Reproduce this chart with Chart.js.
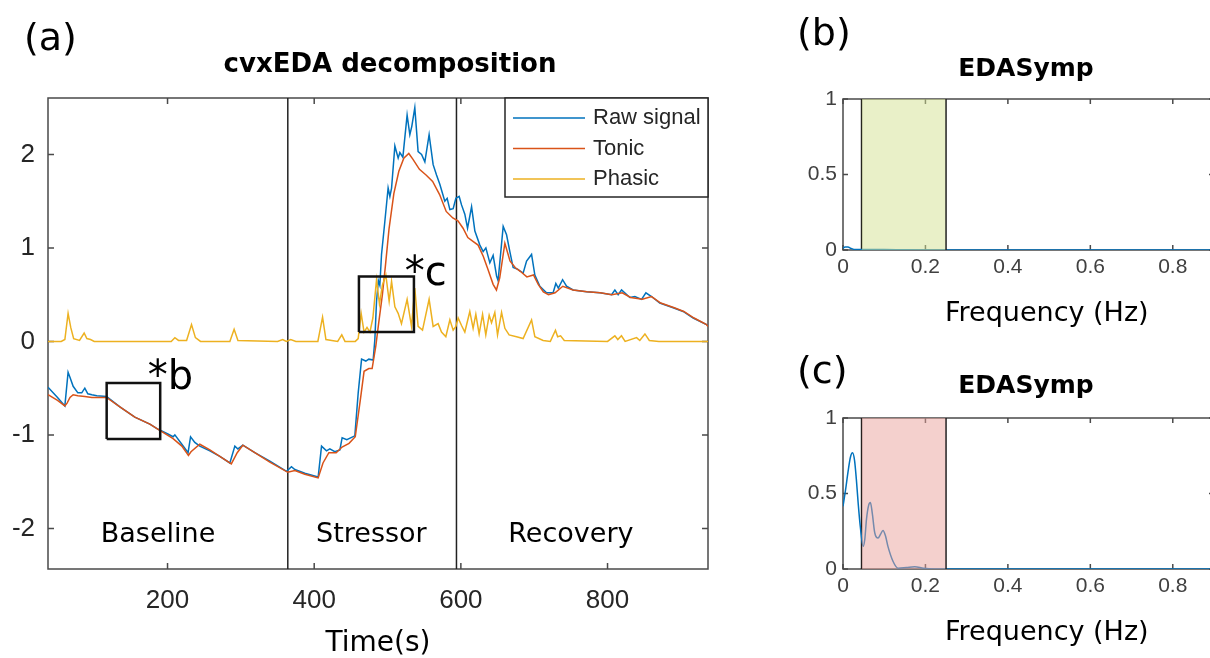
<!DOCTYPE html>
<html>
<head>
<meta charset="utf-8">
<title>cvxEDA decomposition and EDASymp</title>
<script src="https://cdn.jsdelivr.net/npm/chart.js@4.4.1/dist/chart.umd.min.js"></script>
<style>
  html, body { margin: 0; padding: 0; background: #fff; overflow: hidden; }
  body { width: 1210px; height: 658px; position: relative; }
  canvas { position: absolute; }
  #chartA { left: 0; top: 0; }
  #chartB { left: 790px; top: 0; }
  #chartC { left: 790px; top: 330px; }
</style>
</head>
<body>
<canvas id="chartA" width="780" height="658"></canvas>
<canvas id="chartB" width="440" height="330"></canvas>
<canvas id="chartC" width="440" height="328"></canvas>
<script>
// ---- panel (a): cvxEDA decomposition, [time (s), value] ----
const rawSignal = [
  [37,-0.49],[50,-0.60],[60,-0.69],[64.4,-0.33],[66.8,-0.38],[71.3,-0.48],[77.7,-0.55],[83,-0.55],
  [87.2,-0.50],[91.3,-0.56],[96.8,-0.57],[103.6,-0.58],[116.8,-0.59],[135,-0.70],[155.4,-0.81],
  [175.9,-0.885],[187.2,-0.94],[200.4,-0.99],[207.6,-1.02],[210,-1.00],[219.5,-1.10],[228,-1.19],
  [231.4,-1.02],[237.2,-1.08],[244,-1.12],[257.7,-1.17],[271.3,-1.23],[285,-1.30],[291.8,-1.12],
  [296,-1.15],[302.7,-1.11],[319,-1.19],[339.5,-1.28],[362.3,-1.39],[369,-1.34],[373.6,-1.37],
  [387.2,-1.41],[405.4,-1.45],[410,-1.12],[416.8,-1.17],[421.3,-1.15],[428.1,-1.18],[435,-1.16],
  [438.1,-1.03],[444.5,-1.05],[455.4,-1.01],[460,-0.55],[464.6,-0.19],[470.4,-0.21],[474.5,-0.19],
  [480.4,-0.20],[482.7,0.02],[485,0.43],[487.5,0.65],[489.5,0.60],[491.8,0.93],[496.3,1.28],
  [500.8,1.64],[503.2,1.55],[505.5,1.64],[510,2.09],[514.5,1.96],[516.8,2.02],[520.9,1.97],
  [526.7,2.42],[530.4,2.21],[533.1,2.30],[537.2,2.50],[541.7,2.03],[546.4,2.00],[550.9,1.92],
  [556.7,2.21],[562.2,1.89],[566.8,1.78],[571.3,1.68],[578.1,1.50],[581.3,1.53],[585,1.41],
  [589.5,1.42],[593.2,1.53],[597.7,1.55],[600.9,1.46],[605.4,1.36],[609.1,1.21],[614.6,1.44],
  [619.1,1.18],[625.9,1.03],[630.4,0.96],[634.1,1.00],[639.5,0.84],[644,0.92],[648.7,0.70],
  [650.8,0.65],[657.7,1.23],[662.3,1.14],[666.8,0.96],[671.3,0.79],[677.7,0.77],[684.9,0.73],
  [689.6,0.86],[696.4,0.93],[700.9,0.71],[707.7,0.59],[716.8,0.52],[725.8,0.52],[729.5,0.62],
  [732.9,0.57],[738.7,0.66],[744.1,0.59],[753.1,0.55],[771.4,0.53],[789.5,0.52],[805.5,0.50],
  [810,0.55],[814.5,0.50],[819.1,0.55],[830.5,0.47],[837.3,0.48],[846.4,0.45],[852.3,0.52],
  [860,0.48],[871.3,0.41],[889.5,0.36],[903.1,0.32],[916.8,0.25],[935,0.18],[937,0.17]
];
const tonic = [
  [37,-0.57],[50,-0.63],[60,-0.69],[63,-0.66],[67,-0.60],[71.3,-0.57],[77.7,-0.58],[87.2,-0.59],
  [96.8,-0.60],[116.8,-0.60],[135,-0.70],[155.4,-0.81],[175.9,-0.885],[187.2,-0.94],[207.6,-1.04],
  [219.5,-1.12],[228.5,-1.22],[232,-1.18],[244,-1.10],[257.7,-1.16],[271.3,-1.23],[287,-1.31],
  [295,-1.19],[302.7,-1.11],[319,-1.19],[339.5,-1.29],[364,-1.40],[373.6,-1.38],[387.2,-1.42],
  [405.4,-1.46],[412,-1.30],[420,-1.19],[430,-1.19],[438,-1.13],[447.5,-1.09],[456,-1.02],
  [463,-0.62],[468,-0.32],[474.5,-0.29],[479,-0.29],[484,-0.05],[488,0.20],[493,0.50],[497,0.80],
  [502,1.20],[508.6,1.58],[515.4,1.82],[522.2,1.96],[529,2.01],[534.5,1.95],[543.5,1.84],
  [552.5,1.78],[561.5,1.71],[571,1.57],[580,1.39],[589,1.32],[596,1.29],[603,1.21],[609.5,1.11],
  [616.5,1.07],[623.5,1.03],[630.5,0.91],[637,0.77],[644,0.61],[648.5,0.55],[653,0.68],[660,1.05],
  [667,0.86],[674,0.79],[681,0.75],[690,0.69],[699,0.71],[705.5,0.61],[712.5,0.53],[719.5,0.50],
  [728.5,0.52],[739,0.59],[753,0.55],[772,0.53],[790,0.52],[806,0.50],[820,0.52],[831.5,0.47],
  [847.5,0.45],[860,0.48],[872.5,0.41],[891,0.36],[904,0.32],[918,0.25],[935,0.18],[937,0.16]
];
const phasic = [
  [37,0],[55,0],[60,0.02],[64.4,0.30],[68,0.15],[72,0.03],[80,0.01],[86.3,0.09],[90,0.03],[95,0.02],
  [100,0],[140,0],[205,0],[210,0.04],[215,0.01],[226,0.01],[232.7,0.18],[238,0.04],[245,0],[285,0],
  [290.8,0.13],[296,0.01],[350,0],[357,0.02],[362,0],[368,0.02],[375,0],[405,0],[411.4,0.26],
  [416,0.02],[432,0],[437.6,0.07],[442,0],[456,0],[460,0.03],[464,0.30],[468,0.10],[472,0.15],
  [476,0.10],[480,0.25],[485,0.66],[489,0.40],[493,0.60],[497.7,0.71],[502.2,0.43],[505.5,0.64],
  [510,0.37],[514.5,0.30],[519,0.19],[526.7,0.45],[532.7,0.16],[537.2,0.57],[541.7,0.16],
  [547.7,0.12],[556.7,0.45],[562.2,0.16],[569,0.19],[573.6,0.10],[579.5,0.05],[585,0.23],
  [589.5,0.12],[593.2,0.16],[596.3,0.25],[600.9,0.17],[605.4,0.10],[612.2,0.32],[616.7,0.14],
  [620.4,0.29],[624.9,0.08],[629.6,0.29],[634,0.07],[638.6,0.28],[641.8,0.20],[646.3,0.31],
  [650,0.07],[655.5,0.31],[660,0.14],[665.8,0.07],[675.9,0.05],[684.9,0.03],[696.4,0.23],
  [700.9,0.05],[712.2,0.01],[722,0],[729,0.12],[732,0.05],[736,0.06],[741,0.01],[800,0],[810,0.06],
  [814,0.02],[819,0.06],[824,0],[839.6,0.04],[844,0.01],[851,0.08],[857,0.01],[870,0],[937,0]
];
const seriesNames = ["Raw signal", "Tonic", "Phasic"];
const seriesColors = ["#0072BD", "#D95319", "#EDB120"];

const timeRange = [37, 937];
const ampRange = [-2.434, 2.603];
const timeTicks = [200, 400, 600, 800];
const ampTicks = [-2, -1, 0, 1, 2];

const phaseBounds = [364, 594];
const phaseNames = ["Baseline", "Stressor", "Recovery"];
const phaseLabelTime = [187, 478, 750];
const phaseLabelAmp = -2.14;

const boxBTime = [117, 190];
const boxBAmp = [-1.045, -0.445];
const boxCTime = [461, 536];
const boxCAmp = [0.10, 0.695];
const markNames = ["*b", "*c"];
const markTime = [173, 523.6];
const markAmp = [-0.506, 0.606];

// ---- panels (b) and (c): EDASymp spectra ----
const freqTicks = [0, 0.2, 0.4, 0.6, 0.8];
const powerTicks = [0, 0.5, 1];
const powerTickLabels = ["0", "0.5", "1"];
const freqRange = [0, 0.9];
const sympBand = [0.045, 0.25];

const freqB = [0, 0.005, 0.012, 0.02, 0.03, 0.05, 0.1, 0.15, 0.2, 0.3, 0.5, 0.7, 0.9];
const powerB = [0.012, 0.02, 0.02, 0.01, 0.003, 0.003, 0.003, 0.001, 0, 0, 0, 0, 0];

const freqC = [0, 0.006, 0.012, 0.018, 0.023, 0.028, 0.0325, 0.037, 0.042, 0.0487, 0.053, 0.057,
  0.062, 0.0665, 0.071, 0.077, 0.085, 0.091, 0.097, 0.103, 0.109, 0.1215, 0.134, 0.154, 0.174,
  0.195, 0.22, 0.3, 0.5, 0.7, 0.9];
const powerC = [0.415, 0.52, 0.64, 0.74, 0.77, 0.72, 0.59, 0.43, 0.28, 0.15, 0.2, 0.33, 0.42, 0.44,
  0.37, 0.24, 0.205, 0.23, 0.255, 0.22, 0.15, 0.05, 0.005, 0.01, 0.015, 0.005, 0, 0, 0, 0, 0];

const TICK_FONT = "'Liberation Sans', Arial, sans-serif";
const NOTE_FONT = "'DejaVu Sans', sans-serif";
const AXIS_COLOR = "#262626";

// helpers
function pairs(list) {
  return list.map(p => ({ x: p[0], y: p[1] }));
}
function zipXY(xs, ys) {
  return xs.map((x, i) => ({ x: x, y: ys[i] }));
}
function rect(xs, ys) {
  return [
    { x: xs[0], y: ys[0] }, { x: xs[1], y: ys[0] }, { x: xs[1], y: ys[1] },
    { x: xs[0], y: ys[1] }, { x: xs[0], y: ys[0] }
  ];
}
function vline(x, ys) {
  return [{ x: x, y: ys[0] }, { x: x, y: ys[1] }];
}

// box around the axes with inward ticks, drawn under the data like MATLAB
const matlabAxes = {
  id: "matlabAxes",
  beforeDatasetsDraw(chart, args, opts) {
    const { ctx, chartArea: a, scales } = chart;
    ctx.save();
    ctx.strokeStyle = opts.color;
    ctx.lineWidth = opts.width;
    ctx.strokeRect(a.left, a.top, a.right - a.left, a.bottom - a.top);
    ctx.beginPath();
    scales.x.ticks.forEach(t => {
      const px = scales.x.getPixelForValue(t.value);
      ctx.moveTo(px, a.bottom); ctx.lineTo(px, a.bottom - opts.len);
      ctx.moveTo(px, a.top); ctx.lineTo(px, a.top + opts.len);
    });
    scales.y.ticks.forEach(t => {
      const py = scales.y.getPixelForValue(t.value);
      ctx.moveTo(a.left, py); ctx.lineTo(a.left + opts.len, py);
      ctx.moveTo(a.right, py); ctx.lineTo(a.right - opts.len, py);
    });
    ctx.stroke();
    ctx.restore();
  }
};

// panel letters, titles and notes
const notes = {
  id: "notes",
  afterDatasetsDraw(chart, args, opts) {
    const { ctx, scales: { x, y } } = chart;
    ctx.save();
    ctx.fillStyle = "#000";
    ctx.textBaseline = "alphabetic";
    ctx.textAlign = "left";
    ctx.font = "38px " + NOTE_FONT;
    ctx.fillText(opts.letter, opts.letterX, opts.letterY);
    ctx.textAlign = "center";
    ctx.font = "bold " + opts.titleSize + "px " + NOTE_FONT;
    ctx.fillText(opts.title, opts.titleX, opts.titleY);
    (opts.texts || []).forEach(t => {
      ctx.font = t.size + "px " + NOTE_FONT;
      ctx.textAlign = t.align;
      ctx.fillText(t.text, x.getPixelForValue(t.x), y.getPixelForValue(t.y));
    });
    ctx.restore();
  }
};

// MATLAB style boxed legend in the top right corner
const boxLegend = {
  id: "boxLegend",
  afterDatasetsDraw(chart) {
    const { ctx, chartArea } = chart;
    const w = 203, h = 99;
    const x0 = chartArea.right - w, y0 = chartArea.top;
    ctx.save();
    ctx.fillStyle = "#fff";
    ctx.fillRect(x0, y0, w, h);
    ctx.strokeStyle = AXIS_COLOR;
    ctx.lineWidth = 1.5;
    ctx.strokeRect(x0, y0, w, h);
    ctx.font = "22px " + TICK_FONT;
    ctx.textBaseline = "middle";
    ctx.textAlign = "left";
    seriesNames.forEach((name, i) => {
      const yy = y0 + 20 + i * 30.5;
      ctx.strokeStyle = seriesColors[i];
      ctx.lineWidth = 1.5;
      ctx.beginPath();
      ctx.moveTo(x0 + 8, yy);
      ctx.lineTo(x0 + 80, yy);
      ctx.stroke();
      ctx.fillStyle = AXIS_COLOR;
      ctx.fillText(name, x0 + 88, yy);
    });
    ctx.restore();
  }
};

function lineSet(label, data, color, width, order) {
  return {
    label: label,
    data: data,
    borderColor: color,
    backgroundColor: color,
    borderWidth: width,
    pointRadius: 0,
    lineTension: 0,
    fill: false,
    order: order
  };
}

function fixedTicks(values) {
  return s => { s.ticks = values.map(v => ({ value: v })); };
}

// ---------------- chart (a) ----------------
const configA = {
  type: "line",
  data: {
    datasets: [
      lineSet("box b", rect(boxBTime, boxBAmp), "#111", 2.5, 0),
      lineSet("box c", rect(boxCTime, boxCAmp), "#111", 2.5, 0),
      lineSet(seriesNames[2], pairs(phasic), seriesColors[2], 1.5, 1),
      lineSet(seriesNames[1], pairs(tonic), seriesColors[1], 1.5, 2),
      lineSet(seriesNames[0], pairs(rawSignal), seriesColors[0], 1.5, 3),
      lineSet("stressor start", vline(phaseBounds[0], ampRange), "#222", 1.5, 4),
      lineSet("recovery start", vline(phaseBounds[1], ampRange), "#222", 1.5, 4)
    ]
  },
  options: {
    responsive: false,
    animation: false,
    layout: { padding: { left: 0, right: 72, top: 98, bottom: 0 } },
    scales: {
      x: {
        type: "linear",
        min: timeRange[0],
        max: timeRange[1],
        afterBuildTicks: fixedTicks(timeTicks),
        afterFit: s => { s.height = 89; },
        grid: { display: false, drawTicks: false },
        border: { display: false },
        ticks: {
          autoSkip: false, maxRotation: 0, padding: 16, color: AXIS_COLOR,
          font: { family: TICK_FONT, size: 26 },
          callback: v => String(v)
        },
        title: {
          display: true, text: "Time(s)", color: "#000",
          font: { family: NOTE_FONT, size: 28, lineHeight: 1.0 },
          padding: { top: 0, bottom: 0 }
        }
      },
      y: {
        type: "linear",
        min: ampRange[0],
        max: ampRange[1],
        afterBuildTicks: fixedTicks(ampTicks),
        afterFit: s => { s.width = 48; },
        grid: { display: false, drawTicks: false },
        border: { display: false },
        ticks: {
          autoSkip: false, padding: 13, color: AXIS_COLOR,
          font: { family: TICK_FONT, size: 26 },
          callback: v => String(v)
        }
      }
    },
    plugins: {
      legend: { display: false },
      tooltip: { enabled: false },
      matlabAxes: { color: "#4a4a4a", width: 1.5, len: 6 },
      notes: {
        letter: "(a)", letterX: 24, letterY: 50,
        title: "cvxEDA decomposition", titleSize: 26, titleX: 390, titleY: 72,
        texts: phaseNames.map((n, i) => ({ text: n, x: phaseLabelTime[i], y: phaseLabelAmp, size: 27, align: "center" }))
          .concat(markNames.map((n, i) => ({ text: n, x: markTime[i], y: markAmp[i], size: 40, align: "left" })))
      }
    }
  },
  plugins: [matlabAxes, notes, boxLegend]
};

// ---------------- charts (b) and (c) ----------------
function spectrumConfig(freq, power, bandColor, letter, letterY, titleY, top, xHeight) {
  return {
    type: "line",
    data: {
      datasets: [
        lineSet("band end", vline(sympBand[1], [0, 1]), "#222", 1.5, 1),
        {
          label: "EDASymp band",
          data: [{ x: sympBand[0], y: 1 }, { x: sympBand[1], y: 1 }],
          borderWidth: 0,
          pointRadius: 0,
          backgroundColor: bandColor,
          fill: "origin",
          order: 2
        },
        Object.assign(lineSet("spectrum", zipXY(freq, power), "#0072BD", 1.5, 3), { cubicInterpolationMode: "monotone" }),
        lineSet("band start", vline(sympBand[0], [0, 1]), "#111", 1.5, 4)
      ]
    },
    options: {
      responsive: false,
      animation: false,
      layout: { padding: { left: 0, right: 16, top: top, bottom: 0 } },
      scales: {
        x: {
          type: "linear",
          min: freqRange[0],
          max: freqRange[1],
          afterBuildTicks: fixedTicks(freqTicks),
          afterFit: s => { s.height = xHeight; },
          grid: { display: false, drawTicks: false },
          border: { display: false },
          ticks: {
            autoSkip: false, maxRotation: 0, padding: 5, color: "#404040",
            font: { family: TICK_FONT, size: 21 },
            callback: v => String(v)
          },
          title: { display: false }
        },
        y: {
          type: "linear",
          min: 0,
          max: 1,
          afterBuildTicks: fixedTicks(powerTicks),
          afterFit: s => { s.width = 53; },
          grid: { display: false, drawTicks: false },
          border: { display: false },
          ticks: {
            autoSkip: false, padding: 6, color: "#404040",
            font: { family: TICK_FONT, size: 21 },
            callback: (v, i) => powerTickLabels[i]
          }
        }
      },
      plugins: {
        legend: { display: false },
        tooltip: { enabled: false },
        matlabAxes: { color: "#4a4a4a", width: 1.5, len: 5 },
        notes: {
          letter: letter, letterX: 7, letterY: letterY,
          title: "EDASymp", titleSize: 25, titleX: 236, titleY: titleY,
          texts: []
        }
      }
    },
    plugins: [matlabAxes, notes, {
      id: "freqLabel",
      afterDraw(chart) {
        const ctx = chart.ctx;
        ctx.save();
        ctx.fillStyle = "#000";
        ctx.font = "27px " + NOTE_FONT;
        ctx.textAlign = "left";
        ctx.textBaseline = "alphabetic";
        ctx.fillText("Frequency (Hz)", 155, chart.chartArea.bottom + 71);
        ctx.restore();
      }
    }]
  };
}

new Chart(document.getElementById("chartA"), configA);
new Chart(document.getElementById("chartB"),
  spectrumConfig(freqB, powerB, "rgba(211,225,145,0.5)", "(b)", 45, 76, 99, 80));
new Chart(document.getElementById("chartC"),
  spectrumConfig(freqC, powerC, "rgba(233,161,155,0.5)", "(c)", 53, 63, 88, 89));
</script>
</body>
</html>
